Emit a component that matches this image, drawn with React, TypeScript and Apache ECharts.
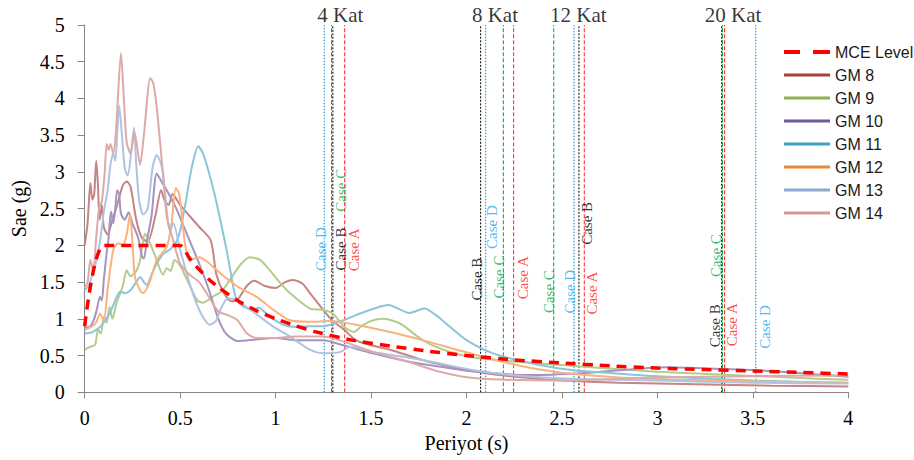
import React, { useEffect, useRef } from "react";
import * as echarts from "echarts";

// ---- data (T in s, Sa in g) ----
const mce: [number, number][] = [
  [0, 0.9], [0.1, 2.0], [0.5, 2.0], [0.55, 1.82], [0.6, 1.67], [0.65, 1.54], [0.7, 1.43], [0.8, 1.25],
  [0.9, 1.11], [1.0, 1.0], [1.1, 0.91], [1.2, 0.83], [1.4, 0.71], [1.6, 0.63], [1.8, 0.56], [2.0, 0.5],
  [2.25, 0.44], [2.5, 0.4], [2.75, 0.36], [3.0, 0.33], [3.25, 0.31], [3.5, 0.29], [3.75, 0.27], [4.0, 0.25],
];

const gm8: [number, number][] = [
  [0, 2.0], [0.015, 2.3], [0.03, 2.85], [0.04, 2.62], [0.05, 2.7], [0.06, 3.15], [0.068, 2.9], [0.078, 2.35],
  [0.09, 2.55], [0.1, 2.25], [0.12, 2.15], [0.14, 2.3], [0.17, 2.55], [0.2, 2.82], [0.22, 2.87], [0.24, 2.8],
  [0.27, 2.35], [0.3, 2.1], [0.33, 2.05], [0.37, 2.4], [0.4, 2.75], [0.42, 2.6], [0.44, 2.55], [0.46, 2.7],
  [0.5, 2.55], [0.55, 2.4], [0.6, 2.25], [0.66, 2.07], [0.69, 1.6], [0.73, 1.35], [0.77, 1.24], [0.8, 1.26],
  [0.85, 1.45], [0.89, 1.52], [0.94, 1.45], [1.0, 1.42], [1.05, 1.5], [1.09, 1.53], [1.14, 1.48], [1.18, 1.35],
  [1.25, 1.12], [1.3, 0.97], [1.36, 0.85], [1.42, 0.71], [1.5, 0.64], [1.6, 0.58], [1.77, 0.44], [1.95, 0.33],
  [2.1, 0.26], [2.3, 0.2], [2.5, 0.16], [2.8, 0.13], [3.2, 0.11], [3.6, 0.09], [4.0, 0.08],
];

const gm9: [number, number][] = [
  [0, 0.58], [0.03, 0.62], [0.055, 0.65], [0.07, 0.85], [0.085, 0.8], [0.1, 1.03], [0.115, 0.95], [0.13, 1.16],
  [0.145, 1.0], [0.165, 1.2], [0.2, 1.45], [0.22, 1.66], [0.24, 1.58], [0.27, 1.65], [0.29, 1.8], [0.316, 2.16],
  [0.33, 2.1], [0.355, 1.95], [0.377, 1.8], [0.41, 1.6], [0.43, 1.69], [0.45, 1.65], [0.47, 1.8], [0.5, 1.72],
  [0.52, 1.62], [0.56, 1.4], [0.59, 1.25], [0.62, 1.22], [0.67, 1.3], [0.72, 1.38], [0.76, 1.53], [0.82, 1.75],
  [0.866, 1.84], [0.92, 1.8], [0.97, 1.66], [1.02, 1.5], [1.075, 1.35], [1.18, 1.14], [1.25, 1.12], [1.3, 1.07],
  [1.36, 0.89], [1.41, 0.82], [1.45, 0.9], [1.5, 0.97], [1.56, 1.0], [1.65, 0.94], [1.77, 0.71], [1.88, 0.58],
  [2.02, 0.48], [2.2, 0.43], [2.6, 0.35], [3.0, 0.28], [3.35, 0.24], [3.7, 0.2], [4.0, 0.17],
];

const gm10: [number, number][] = [
  [0, 0.88], [0.03, 0.9], [0.05, 1.0], [0.063, 1.12], [0.08, 1.3], [0.09, 1.25], [0.1, 1.53], [0.115, 1.9],
  [0.124, 2.07], [0.138, 2.46], [0.15, 2.3], [0.16, 2.5], [0.17, 2.75], [0.18, 2.7], [0.19, 2.43], [0.21, 2.35],
  [0.23, 2.45], [0.25, 2.3], [0.28, 2.1], [0.3, 1.85], [0.31, 1.82], [0.325, 2.05], [0.35, 2.4], [0.377, 2.98],
  [0.4, 2.88], [0.43, 2.75], [0.48, 2.5], [0.52, 2.25], [0.56, 2.0], [0.6, 1.75], [0.65, 1.4], [0.7, 1.0],
  [0.74, 0.8], [0.8, 0.7], [0.9, 0.72], [1.0, 0.74], [1.1, 0.71], [1.25, 0.71], [1.355, 0.64], [1.51, 0.53],
  [1.69, 0.42], [1.86, 0.35], [2.05, 0.28], [2.35, 0.235], [2.6, 0.26], [2.8, 0.3], [3.05, 0.34], [3.3, 0.32],
  [3.52, 0.3], [3.8, 0.25], [4.0, 0.21],
];

const gm11: [number, number][] = [
  [0, 0.8], [0.04, 0.82], [0.08, 0.89], [0.1, 0.95], [0.13, 1.07], [0.16, 1.25], [0.185, 1.37], [0.21, 1.35],
  [0.24, 1.39], [0.27, 1.5], [0.29, 1.57], [0.31, 1.5], [0.325, 1.46], [0.35, 1.6], [0.377, 1.75], [0.41, 1.88],
  [0.45, 1.95], [0.48, 2.05], [0.5, 2.2], [0.53, 2.6], [0.56, 3.05], [0.595, 3.35], [0.62, 3.25], [0.65, 3.0],
  [0.68, 2.7], [0.71, 2.35], [0.74, 1.98], [0.76, 1.7], [0.79, 1.3], [0.82, 1.19], [0.88, 1.12], [0.91, 1.15],
  [0.97, 1.03], [1.04, 0.92], [1.11, 0.89], [1.18, 0.9], [1.25, 0.9], [1.355, 0.98], [1.45, 1.08], [1.59, 1.19],
  [1.7, 1.08], [1.78, 1.14], [1.84, 1.05], [1.9, 0.92], [2.0, 0.71], [2.14, 0.53], [2.35, 0.39], [2.56, 0.3],
  [2.77, 0.26], [3.0, 0.22], [3.5, 0.16], [4.0, 0.13],
];

const gm12: [number, number][] = [
  [0, 0.85], [0.04, 0.9], [0.06, 0.95], [0.08, 1.07], [0.1, 0.98], [0.12, 1.4], [0.15, 1.94], [0.176, 2.03],
  [0.2, 2.0], [0.22, 2.15], [0.237, 2.42], [0.25, 2.05], [0.263, 1.57], [0.29, 1.39], [0.307, 1.35], [0.34, 1.5],
  [0.377, 1.8], [0.43, 1.98], [0.455, 2.3], [0.477, 2.78], [0.495, 2.7], [0.508, 2.43], [0.525, 2.03], [0.55, 1.8],
  [0.6, 1.84], [0.64, 1.78], [0.71, 1.62], [0.8, 1.44], [0.9, 1.3], [0.99, 1.12], [1.075, 0.98], [1.18, 0.96],
  [1.285, 0.97], [1.42, 0.92], [1.6, 0.82], [1.77, 0.71], [1.95, 0.58], [2.12, 0.46], [2.3, 0.35], [2.49, 0.27],
  [2.8, 0.2], [3.12, 0.17], [3.5, 0.15], [4.0, 0.13],
];

const gm13: [number, number][] = [
  [0, 1.38], [0.02, 1.45], [0.04, 1.6], [0.06, 1.78], [0.08, 2.05], [0.1, 2.45], [0.12, 2.75], [0.135, 3.1],
  [0.15, 3.25], [0.16, 3.15], [0.17, 3.5], [0.181, 3.9], [0.195, 3.5], [0.21, 3.05], [0.225, 2.95], [0.245, 3.3],
  [0.258, 3.6], [0.27, 3.1], [0.285, 2.62], [0.307, 2.42], [0.33, 2.5], [0.355, 3.05], [0.377, 3.23], [0.395, 3.15],
  [0.41, 2.98], [0.447, 2.2], [0.464, 2.3], [0.5, 1.94], [0.55, 1.48], [0.6, 1.12], [0.656, 0.92], [0.69, 0.98],
  [0.71, 1.12], [0.75, 1.28], [0.79, 1.26], [0.88, 1.1], [0.99, 0.89], [1.075, 0.76], [1.18, 0.58], [1.25, 0.53],
  [1.34, 0.55], [1.39, 0.62], [1.51, 0.55], [1.77, 0.44], [2.04, 0.3], [2.3, 0.22], [2.6, 0.18], [3.0, 0.16],
  [3.5, 0.13], [4.0, 0.12],
];

const gm14: [number, number][] = [
  [0, 1.42], [0.015, 1.5], [0.03, 1.8], [0.045, 1.65], [0.06, 2.1], [0.075, 2.5], [0.09, 2.6], [0.105, 3.0],
  [0.115, 3.38], [0.125, 3.3], [0.135, 3.38], [0.15, 3.25], [0.165, 3.6], [0.19, 4.62], [0.205, 4.0], [0.22, 3.4],
  [0.24, 3.25], [0.26, 3.55], [0.29, 3.1], [0.31, 3.5], [0.344, 4.28], [0.36, 4.2], [0.377, 3.89], [0.394, 3.43],
  [0.41, 2.98], [0.43, 2.39], [0.46, 2.1], [0.5, 1.75], [0.55, 1.6], [0.6, 1.5], [0.65, 1.3], [0.7, 1.1],
  [0.75, 1.05], [0.8, 0.98], [0.85, 0.8], [0.9, 0.74], [1.0, 0.74], [1.1, 0.76], [1.25, 0.76], [1.355, 0.69],
  [1.51, 0.55], [1.69, 0.42], [1.86, 0.28], [2.05, 0.19], [2.5, 0.16], [3.0, 0.2], [3.5, 0.22], [4.0, 0.23],
];

const gmNames = ["GM 8", "GM 9", "GM 10", "GM 11", "GM 12", "GM 13", "GM 14"];
const gmData = [gm8, gm9, gm10, gm11, gm12, gm13, gm14];
const gmColors = ["#C48583", "#B3CD8A", "#A593C2", "#8AC6D9", "#F9B27C", "#AFC3E2", "#DDAAA8"];
const gmLegendColors = ["#A8413E", "#8EB04D", "#71589A", "#3BA2BF", "#E98A3A", "#8FAAD0", "#D59896"];

// building labels
const katNames = ["4 Kat", "8 Kat", "12 Kat", "20 Kat"];
const katLabelT = [1.339, 2.149, 2.586, 3.396];

// vertical period lines per case (4, 8, 12, 20 Kat)
const caseNames = ["Case A", "Case B", "Case C", "Case D"];
const caseA_T = [1.362, 2.247, 2.617, 3.352];
const caseB_T = [1.3, 2.074, 2.589, 3.337];
const caseC_T = [1.293, 2.193, 2.457, 3.341];
const caseD_T = [1.255, 2.1, 2.563, 3.515];
const caseLabelA: [number, number][] = [[1.411, 1.94], [2.296, 1.56], [2.66, 1.35], [3.393, 0.92]];
const caseLabelB: [number, number][] = [[1.343, 1.95], [2.053, 1.54], [2.63, 2.3], [3.3, 0.905]];
const caseLabelC: [number, number][] = [[1.34, 2.75], [2.168, 1.57], [2.431, 1.37], [3.309, 1.86]];
const caseLabelD: [number, number][] = [[1.236, 1.95], [2.135, 2.25], [2.542, 1.37], [3.563, 0.89]];

const caseTs = [caseA_T, caseB_T, caseC_T, caseD_T];
const caseLabels = [caseLabelA, caseLabelB, caseLabelC, caseLabelD];
const caseLineColors = ["#FF2020", "#000000", "#00A040", "#3FA0DA"];
const caseTextColors = ["#FF2020", "#000000", "#00B050", "#22AAEE"];
const caseDash = [[4, 2], [2, 1.5], [4, 2], [1.5, 1.5]];

const SERIF = "'Liberation Serif', 'Times New Roman', serif";
const LINE_ICON = "path://M0,0 H46 V3 H0 Z";
const DASH_ICON = "path://M0,0 H16 V4 H0 Z M29,0 H46 V4 H29 Z";

export default function App() {
  const ref = useRef<HTMLDivElement>(null);
  useEffect(() => {
    if (!ref.current) return;
    const chart = echarts.init(ref.current, null, { renderer: "svg" });

    const series: any[] = [];
    // vertical case lines
    caseTs.forEach((ts, ci) => {
      ts.forEach((t, k) => {
        series.push({
          name: caseNames[ci] + "_line_" + k,
          type: "line",
          data: [[t, 0], [t, 5]],
          symbol: "none",
          silent: true,
          z: 1,
          lineStyle: { color: caseLineColors[ci], width: ci === 3 ? 1.3 : 1, type: caseDash[ci] },
        });
      });
    });
    // GM series
    gmNames.forEach((n, i) => {
      series.push({
        name: n,
        type: "line",
        data: gmData[i],
        symbol: "none",
        smooth: 0.25,
        z: 2,
        lineStyle: { color: gmColors[i], width: 2 },
        itemStyle: { color: gmLegendColors[i] },
      });
    });
    // MCE
    series.push({
      name: "MCE Level",
      type: "line",
      data: mce,
      symbol: "none",
      smooth: 0.2,
      z: 4,
      lineStyle: { color: "#FF0000", width: 3.5, type: [10, 7] },
      itemStyle: { color: "#FF0000" },
    });
    // case labels
    caseLabels.forEach((pts, ci) => {
      series.push({
        name: caseNames[ci] + "_labels",
        type: "scatter",
        data: pts,
        symbolSize: 0,
        silent: true,
        clip: false,
        z: 5,
        label: {
          show: true,
          position: "inside",
          rotate: 90,
          formatter: caseNames[ci],
          color: caseTextColors[ci],
          fontSize: 15,
          fontFamily: SERIF,
        },
      });
    });
    // Kat labels
    series.push({
      name: "kat_labels",
      type: "scatter",
      data: katLabelT.map((t, i) => ({ value: [t, 5], name: katNames[i] })),
      symbolSize: 0,
      silent: true,
      clip: false,
      z: 5,
      label: {
        show: true,
        position: "inside",
        offset: [0, -10],
        formatter: (p: any) => p.name,
        color: "#000",
        fontSize: 21,
        fontFamily: SERIF,
      },
    });

    chart.setOption({
      animation: false,
      backgroundColor: "#fff",
      grid: { left: 84.7, right: 65.7, top: 25, bottom: 67.7, containLabel: false },
      legend: {
        orient: "vertical",
        left: 784,
        top: 44,
        padding: 0,
        itemWidth: 46,
        itemHeight: 14,
        itemGap: 7,
        selectedMode: false,
        textStyle: { fontFamily: "'Liberation Sans', Arial, sans-serif", fontSize: 16, color: "#1a1a1a" },
        data: [
          { name: "MCE Level", icon: DASH_ICON, itemStyle: { color: "#FF0000", borderWidth: 0 } },
          ...gmNames.map((n, i) => ({
            name: n,
            icon: LINE_ICON,
            itemStyle: { color: gmLegendColors[i], borderWidth: 0 },
          })),
        ],
      },
      xAxis: {
        type: "value",
        min: 0,
        max: 4,
        interval: 0.5,
        name: "Periyot (s)",
        nameLocation: "middle",
        nameGap: 36,
        nameTextStyle: { fontFamily: SERIF, fontSize: 20, color: "#000" },
        axisLine: { show: true, lineStyle: { color: "#868686", width: 1 } },
        axisTick: { show: true, length: 6, lineStyle: { color: "#868686" } },
        axisLabel: { fontFamily: SERIF, fontSize: 20, color: "#000", margin: 16 },
        splitLine: { show: false },
      },
      yAxis: {
        type: "value",
        min: 0,
        max: 5,
        interval: 0.5,
        name: "Sae (g)",
        nameLocation: "middle",
        nameGap: 52,
        nameRotate: 90,
        nameTextStyle: { fontFamily: SERIF, fontSize: 20, color: "#000" },
        axisLine: { show: true, lineStyle: { color: "#868686", width: 1 } },
        axisTick: { show: true, length: 7, lineStyle: { color: "#868686" } },
        axisLabel: { fontFamily: SERIF, fontSize: 20, color: "#000", margin: 20 },
        splitLine: { show: false },
      },
      series,
    });
    return () => chart.dispose();
  }, []);
  return (
    <div
      ref={ref}
      style={{ position: "fixed", left: 0, top: 0, width: 914, height: 460, background: "#fff" }}
    />
  );
}
